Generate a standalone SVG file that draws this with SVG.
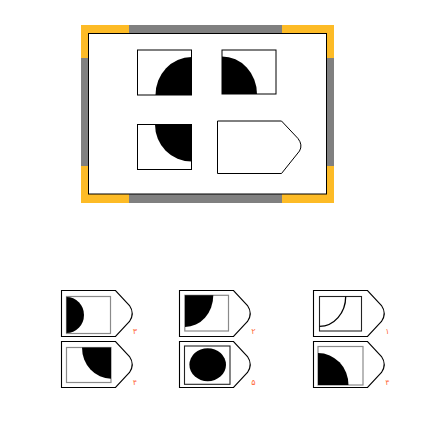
<svg xmlns="http://www.w3.org/2000/svg" xmlns:xlink="http://www.w3.org/1999/xlink" width="426" height="425" viewBox="0 0 426 425">
<style>
.box{fill:#fff;stroke:#000;stroke-width:1}
.blk{fill:#000;stroke:none}
.tab{fill:#fff;stroke:#000;stroke-width:1.1}
.in{fill:#fff;stroke:#8a8a8a;stroke-width:1.2}
.ind{fill:#fff;stroke:#222;stroke-width:1.1}
.lbl{font-family:"DejaVu Sans","Noto Sans",sans-serif;font-size:8px;fill:#ff6a3c}
</style>
<defs>
<path id="tabshape" d="M0,0 H54 L68,15 Q73.5,23 68,31 L54,46 H0 Z"/>
</defs>
<rect width="426" height="425" fill="#fff"/>
<g id="frame">
<rect x="81" y="25" width="253" height="178" fill="#808080"/>
<rect x="81" y="25" width="48" height="8" fill="#fdbb26"/>
<rect x="81" y="25" width="7" height="33" fill="#fdbb26"/>
<rect x="282" y="25" width="52" height="8" fill="#fdbb26"/>
<rect x="327" y="25" width="7" height="33" fill="#fdbb26"/>
<rect x="81" y="194" width="48" height="9" fill="#fdbb26"/>
<rect x="81" y="166" width="7" height="37" fill="#fdbb26"/>
<rect x="282" y="194" width="52" height="9" fill="#fdbb26"/>
<rect x="327" y="166" width="7" height="37" fill="#fdbb26"/>
<rect x="88.5" y="33.5" width="238" height="160.5" fill="#fff" stroke="#000" stroke-width="1"/>
</g>
<g id="q1">
<rect class="box" x="137.5" y="50" width="54" height="45"/>
<path class="blk" d="M191.5,57 A36,38 0 0 0 155.5,95 L191.5,95 Z"/>
</g>
<g id="q2">
<rect class="box" x="222" y="50" width="54" height="44"/>
<path class="blk" d="M222,56.5 A35,37.5 0 0 1 257,94 L222,94 Z"/>
</g>
<g id="q3">
<rect class="box" x="137.5" y="124.5" width="54" height="45"/>
<path class="blk" d="M155,124.5 A36.5,37 0 0 0 191.5,161.5 L191.5,124.5 Z"/>
</g>
<g id="q4">
<path class="box" d="M217.5,121 H281.5 L298,138.5 Q303,145 299.5,151 L281.5,173.5 H217.5 Z"/>
</g>
<g id="connectors"></g>
<g id="opt1">
<use xlink:href="#tabshape" class="tab" x="61.5" y="290.5"/>
<rect class="in" x="66.5" y="296.5" width="44" height="37"/>
<path class="blk" d="M66.5,297 A17.5,18 0 0 1 66.5,333 Z"/>
<text class="lbl" x="135" y="333.5" text-anchor="middle">۳</text>
</g>
<g id="opt2">
<use xlink:href="#tabshape" class="tab" x="179.5" y="290.5"/>
<rect class="in" x="184.8" y="295.3" width="43.7" height="35.7"/>
<path class="blk" d="M185,295.3 H213.3 A28.3,31.7 0 0 1 185,327 Z"/>
<text class="lbl" x="253.5" y="333.5" text-anchor="middle">۲</text>
</g>
<g id="opt3">
<use xlink:href="#tabshape" class="tab" x="313.5" y="290.5"/>
<rect class="ind" x="319.5" y="296.5" width="42" height="34.5"/>
<path d="M345.7,296.5 A26.2,29.8 0 0 1 319.5,326.3" fill="none" stroke="#000" stroke-width="1.3"/>
<text class="lbl" x="387.5" y="333.5" text-anchor="middle">۱</text>
</g>
<g id="opt4">
<use xlink:href="#tabshape" class="tab" x="61.5" y="341.5"/>
<rect class="in" x="66.5" y="347.5" width="44.5" height="35"/>
<path class="blk" d="M82,347.5 A29,31.2 0 0 0 111,378.7 L111,347.5 Z"/>
<text class="lbl" x="135" y="384.5" text-anchor="middle">۴</text>
</g>
<g id="opt5">
<use xlink:href="#tabshape" class="tab" x="179.5" y="341.5"/>
<rect class="ind" x="184.5" y="346" width="45.5" height="38.3"/>
<ellipse class="blk" cx="207.7" cy="364.7" rx="18.3" ry="16.5"/>
<text class="lbl" x="253.5" y="384.5" text-anchor="middle">۵</text>
</g>
<g id="opt6">
<use xlink:href="#tabshape" class="tab" x="313.5" y="341.5"/>
<rect class="in" x="318" y="346.5" width="45" height="38.5"/>
<path class="blk" d="M318,353 A30.5,32 0 0 1 348.5,385 L318,385 Z"/>
<text class="lbl" x="387.5" y="384.5" text-anchor="middle">۴</text>
</g>
</svg>
